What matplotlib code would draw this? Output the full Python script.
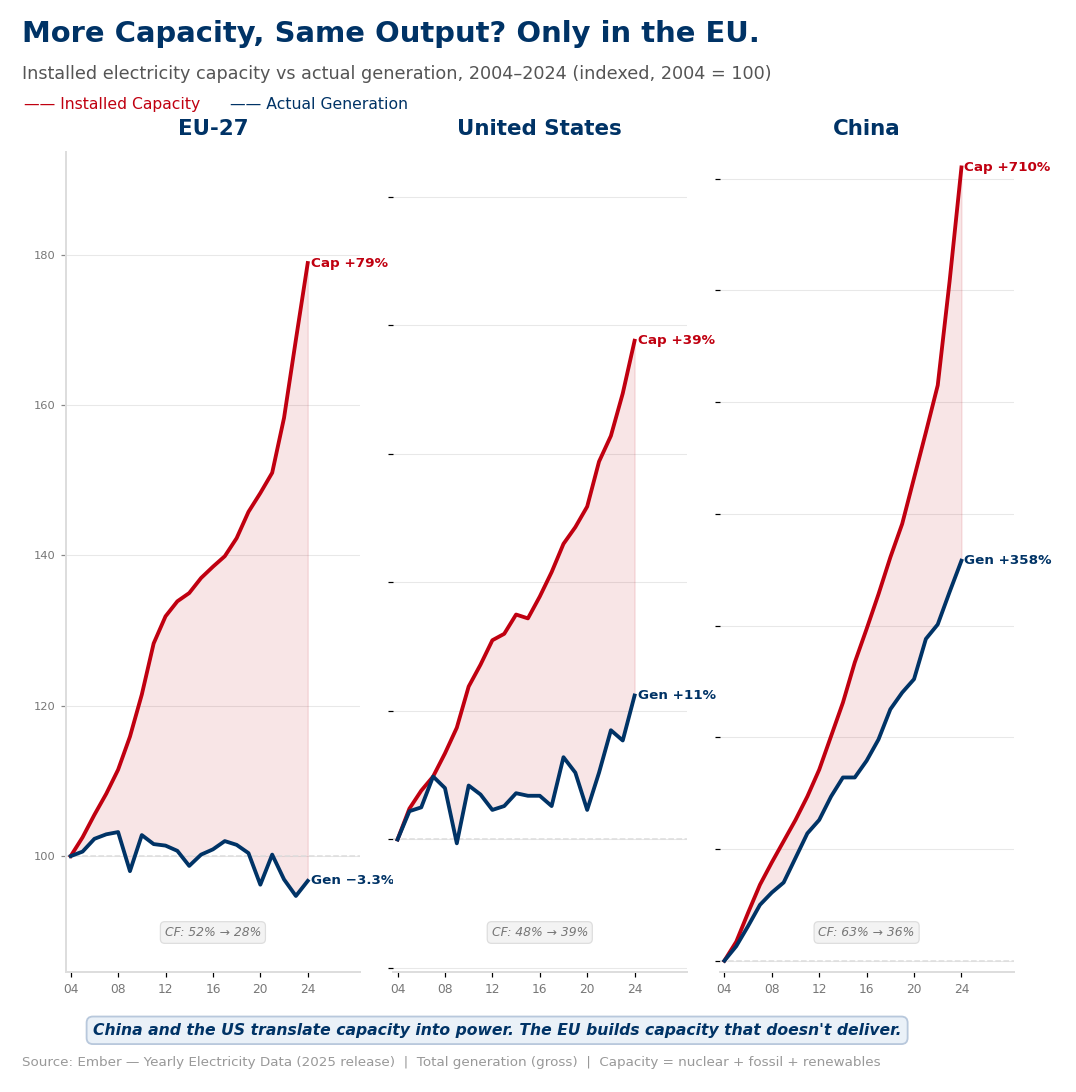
import numpy as np
import matplotlib
matplotlib.use("Agg")
import matplotlib.pyplot as plt

years = np.arange(2004, 2025)

eu_cap = [100, 102.5, 105.5, 108.3, 111.5, 115.9, 121.5, 128.3, 131.9, 133.9, 135.0,
          137.0, 138.5, 139.9, 142.3, 145.8, 148.3, 151.0, 158.3, 168.7, 178.9]
eu_gen = [100, 100.6, 102.3, 102.9, 103.2, 98.0, 102.8, 101.6, 101.4, 100.7, 98.7,
          100.2, 100.9, 102.0, 101.5, 100.4, 96.2, 100.2, 96.9, 94.7, 96.7]

us_cap = [100, 102.4, 103.8, 104.9, 106.7, 108.7, 111.9, 113.6, 115.5, 116.0, 117.5,
          117.2, 118.9, 120.8, 123.0, 124.3, 125.9, 129.4, 131.4, 134.7, 138.8]
us_gen = [100, 102.2, 102.5, 104.9, 104.0, 99.7, 104.2, 103.5, 102.3, 102.6, 103.6,
          103.4, 103.4, 102.6, 106.4, 105.2, 102.3, 105.2, 108.5, 107.7, 111.2]

cn_cap = [100, 117, 143, 168, 188, 207, 226, 247, 271, 301, 331,
          367, 397, 428, 461, 491, 532, 573, 615, 708, 810]
cn_gen = [100, 113, 131, 150, 161, 170, 192, 214, 226, 247, 264,
          264, 279, 298, 325, 340, 352, 388, 401, 430, 458]

regions = ["EU-27", "United States", "China"]
cap_labels = ["Cap +79%", "Cap +39%", "Cap +710%"]
gen_labels = ["Gen \u22123.3%", "Gen +11%", "Gen +358%"]
cf_labels = ["CF: 52% \u2192 28%", "CF: 48% \u2192 39%", "CF: 63% \u2192 36%"]
ylims = [(84.6, 193.7), (89.7, 153.5), (90, 824)]
yticks = [[100, 120, 140, 160, 180], list(range(90, 151, 10)), list(range(100, 801, 100))]

RED = "#C00010"
NAVY = "#003366"

fig, axes = plt.subplots(1, 3, figsize=(1076 / 110, 1092 / 110), dpi=110)
fig.subplots_adjust(left=0.0613, right=0.942, top=0.861, bottom=0.110, wspace=0.112)

data = [(eu_cap, eu_gen), (us_cap, us_gen), (cn_cap, cn_gen)]
for i, ax in enumerate(axes):
    cap, gen = data[i]
    ax.fill_between(years, gen, cap, color=RED, alpha=0.1, lw=1)
    ax.plot(years, cap, color=RED, lw=2.5, zorder=3)
    ax.plot(years, gen, color=NAVY, lw=2.5, zorder=3)
    ax.axhline(100, color="#dddddd", lw=1, ls="--", zorder=1)
    ax.text(2024.25, cap[-1], cap_labels[i], color=RED, fontsize=8.8, fontweight="bold",
            va="center", ha="left")
    ax.text(2024.25, gen[-1], gen_labels[i], color=NAVY, fontsize=8.8, fontweight="bold",
            va="center", ha="left")
    ax.text(0.5, 0.048, cf_labels[i], transform=ax.transAxes, ha="center", va="center",
            fontsize=8.1, style="italic", color="#777777",
            bbox=dict(boxstyle="round,pad=0.35", fc="#f3f3f3", ec="#dddddd", lw=0.8))
    ax.set_title(regions[i], fontsize=14, fontweight="bold", color=NAVY, pad=11)
    ax.set_xlim(2003.6, 2028.4)
    ax.set_ylim(*ylims[i])
    ax.set_yticks(yticks[i])
    ax.set_xticks(range(2004, 2025, 4))
    ax.set_xticklabels(["04", "08", "12", "16", "20", "24"])
    ax.tick_params(axis="x", labelsize=8, labelcolor="#777777")
    ax.grid(axis="y", color="#e8e8e8", lw=0.7)
    ax.set_axisbelow(True)
    for s in ["top", "right"]:
        ax.spines[s].set_visible(False)
    ax.spines["bottom"].set_color("#dddddd")
    ax.spines["bottom"].set_linewidth(1.3)
    if i == 0:
        ax.spines["left"].set_color("#dddddd")
        ax.spines["left"].set_linewidth(1.3)
        ax.tick_params(axis="y", labelsize=7.5, labelcolor="#777777", color="#888888")
    else:
        ax.spines["left"].set_visible(False)
        ax.tick_params(axis="y", labelleft=False)

fig.text(0.0204, 0.969, "More Capacity, Same Output? Only in the EU.", fontsize=19,
         fontweight="bold", color=NAVY, va="center")
fig.text(0.0204, 0.932, "Installed electricity capacity vs actual generation, 2004\u20132024 (indexed, 2004 = 100)",
         fontsize=11.5, color="#555555", va="center")
fig.text(0.022, 0.904, "\u2014\u2014 Installed Capacity", fontsize=10.2, color=RED, va="center")
fig.text(0.214, 0.904, "\u2014\u2014 Actual Generation", fontsize=10.2, color=NAVY, va="center")

fig.text(0.462, 0.0565, "China and the US translate capacity into power. The EU builds capacity that doesn't deliver.",
         fontsize=10.25, fontweight="bold", style="italic", color=NAVY, ha="center", va="center",
         bbox=dict(boxstyle="round,pad=0.4", fc="#eaf1f8", ec="#b8c8dc", lw=1.2))
fig.text(0.0204, 0.027, "Source: Ember \u2014 Yearly Electricity Data (2025 release)  |  Total generation (gross)  |  Capacity = nuclear + fossil + renewables",
         fontsize=8.8, color="#999999", va="center")

fig.savefig("out.png", dpi=110)
